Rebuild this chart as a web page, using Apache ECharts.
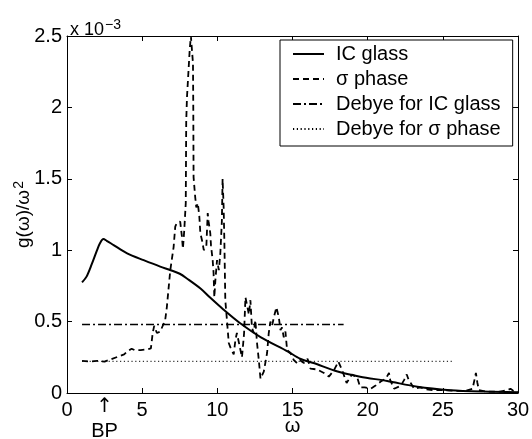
<!DOCTYPE html>
<html>
<head>
<meta charset="utf-8">
<script src="https://cdn.jsdelivr.net/npm/echarts@6/dist/echarts.min.js"></script>
<style>
	html,body{margin:0;padding:0;background:#fff;}
	#chart{width:532px;height:439px;}
</style>
</head>
<body>
<div id="chart"></div>
<script>
	// values in units of 1e-3 (axis shows x 10^-3)
	var icGlassW = [1.0,1.3,1.64,2.0,2.2,2.42,2.64,3.1,4.0,5.1,6.2,6.9,7.5,8.0,8.9,9.5,10.4,11.5,12.9,14.7,15.5,16.4,18.0,19.5,21.3,23.3,25.5,27.7,30]
	var icGlassG = [0.775,0.815,0.9,1.0,1.05,1.078,1.066,1.036,0.978,0.93,0.885,0.86,0.835,0.8,0.73,0.67,0.585,0.49,0.39,0.29,0.24,0.21,0.15,0.114,0.084,0.044,0.02,0.01,0.005]

	var sigmaW = [1.0,1.5,2.0,2.5,2.9,3.4,3.8,4.0,4.3,4.5,4.9,5.3,5.58,5.7,5.8,5.98,6.2,6.53,6.64,6.87,7.09,7.2,7.3,7.53,7.64,7.71,7.8,7.9,7.93,7.98,8.16,8.24,8.38,8.4,8.42,8.53,8.6,8.7,8.8,8.87,8.98,9.1,9.27,9.36,9.42,9.53,9.58,9.69,9.75,9.8,9.87,9.98,10.1,10.2,10.3,10.35,10.42,10.47,10.53,10.64,10.76,10.87,11.09,11.2,11.3,11.5,11.64,11.78,11.87,12.0,12.1,12.2,12.3,12.42,12.53,12.64,12.76,12.87,13.09,13.31,13.42,13.53,13.64,13.76,13.93,14.09,14.2,14.3,14.42,14.53,14.64,14.87,15.09,15.3,15.5,15.76,16.0,16.2,16.64,17.09,17.42,17.76,18.05,18.3,18.6,18.95,19.3,19.5,19.8,20.2,20.5,20.87,21.2,21.42,21.5,21.76,22.2,22.42,22.6,22.7,23.09,23.5,23.9,24.4,25.0,25.9,26.5,26.98,27.2,27.3,27.4,27.9,28.8,29.3,29.5,29.7,30]
	var sigmaG = [0.225,0.22,0.225,0.22,0.235,0.255,0.27,0.29,0.31,0.3,0.3,0.305,0.313,0.42,0.47,0.42,0.43,0.51,0.6,0.86,1.02,1.165,1.19,1.2,1.1,1.01,1.14,1.33,1.9,2.07,2.4,2.5,2.31,2.0,1.51,1.37,1.3,1.33,1.24,1.12,1.07,1.0,1.03,1.26,1.2,1.12,1.03,0.93,0.84,0.67,0.79,0.93,0.86,0.98,1.2,1.5,1.3,1.05,0.65,0.51,0.35,0.32,0.27,0.37,0.42,0.32,0.25,0.42,0.67,0.67,0.55,0.65,0.46,0.42,0.51,0.35,0.23,0.1,0.15,0.28,0.42,0.5,0.47,0.53,0.6,0.53,0.44,0.46,0.39,0.43,0.3,0.28,0.23,0.21,0.23,0.21,0.24,0.17,0.165,0.14,0.115,0.16,0.22,0.16,0.07,0.13,0.11,0.04,0.04,0.03,0.05,0.08,0.1,0.14,0.09,0.03,0.05,0.09,0.13,0.1,0.03,0.04,0.025,0.02,0.02,0.015,0.015,0.03,0.14,0.07,0.02,0.01,0.01,0.02,0.03,0.015,0.01]

	var debyeIcW = [1.0,18.4]
	var debyeIcG = [0.48,0.48]
	var debyeSigmaW = [1.0,25.6]
	var debyeSigmaG = [0.222,0.222]

	var xTicks = [0,5,10,15,20,25,30]
	var yTicks = ['0','0.5','1','1.5','2','2.5']
	var bpW = 2.5

	var font = "'Liberation Sans', Arial, Helvetica, sans-serif"

	function pairs(w,g){
		var d=[]
		for(var i=0;i<w.length;i++){
			d.push([w[i],g[i]])
		}
		return d
	}

	var myChart = echarts.init(document.getElementById('chart'))

	var axisX = {
		type:'value', min:xTicks[0], max:xTicks[xTicks.length-1], interval:5,
		axisLine:{show:true, onZero:false, lineStyle:{color:'#000',width:1}},
		axisTick:{show:true, inside:true, length:5, lineStyle:{color:'#000'}},
		splitLine:{show:false}
	}
	var axisY = {
		type:'value', min:0, max:2.5, interval:0.5,
		axisLine:{show:true, onZero:false, lineStyle:{color:'#000',width:1}},
		axisTick:{show:true, inside:true, length:5, lineStyle:{color:'#000'}},
		splitLine:{show:false}
	}

	var option = {
		animation:false,
		backgroundColor:'#fff',
		textStyle:{fontFamily:font},
		title:{
			left:65, top:13,
			text:'{a|x 10}{b|−3}',
			textStyle:{
				fontWeight:'normal',
				rich:{
					a:{fontSize:18, fontFamily:font, color:'#000', fontWeight:'normal'},
					b:{fontSize:14, fontFamily:font, color:'#000', fontWeight:'normal', padding:[0,0,10,1]}
				}
			}
		},
		grid:{left:67, right:14, top:36, bottom:46, outerBoundsMode:'none', containLabel:false},
		legend:{
			orient:'vertical', left:280, top:40,
			backgroundColor:'#fff', borderColor:'#000', borderWidth:1, borderRadius:0,
			padding:[4,12,7,12], itemGap:5, itemWidth:31, itemHeight:14,
			itemStyle:{opacity:0},
			textStyle:{fontSize:20, color:'#000', fontFamily:font, padding:[0,0,0,7]},
			data:['IC glass','σ phase','Debye for IC glass','Debye for σ phase']
		},
		xAxis:[
			echarts.util.merge({position:'bottom',
				name:'ω', nameLocation:'middle', nameGap:23, nameMoveOverlap:false,
				nameTextStyle:{fontSize:20, color:'#000', fontFamily:font},
				axisLabel:{fontSize:20, color:'#000', margin:7, fontFamily:font}}, axisX, true),
			echarts.util.merge({position:'top', axisLabel:{show:false}}, axisX, true)
		],
		yAxis:[
			echarts.util.merge({position:'left',
				name:'{a|g(ω)/ω}{b|2}', nameLocation:'middle', nameGap:31, nameRotate:90, nameMoveOverlap:false,
				nameTextStyle:{
					rich:{
						a:{fontSize:19, color:'#000', fontFamily:font},
						b:{fontSize:14, color:'#000', fontFamily:font, padding:[0,0,10,1]}
					}
				},
				axisLabel:{fontSize:20, color:'#000', margin:5, fontFamily:font,
					formatter:function(v){ return yTicks[Math.round(v/0.5)] }}}, axisY, true),
			echarts.util.merge({position:'right', axisLabel:{show:false}}, axisY, true)
		],
		series:[
			{name:'IC glass', type:'line', symbol:'none', smooth:0.3, data:pairs(icGlassW,icGlassG),
				lineStyle:{color:'#000', width:2, type:'solid'}, itemStyle:{color:'#000'}},
			{name:'σ phase', type:'line', symbol:'none', data:pairs(sigmaW,sigmaG),
				lineStyle:{color:'#000', width:1.8, type:[6,4]}, itemStyle:{color:'#000'}},
			{name:'Debye for IC glass', type:'line', symbol:'none', data:pairs(debyeIcW,debyeIcG),
				lineStyle:{color:'#000', width:1.6, type:[8,3,2,3]}, itemStyle:{color:'#000'}},
			{name:'Debye for σ phase', type:'line', symbol:'none', data:pairs(debyeSigmaW,debyeSigmaG),
				lineStyle:{color:'#000', width:1, type:[1.2,2.6]}, itemStyle:{color:'#000'}}
		]
	}
	myChart.setOption(option)

	// BP marker under the axis
	var bx = myChart.convertToPixel({xAxisIndex:0}, bpW)
	myChart.setOption({
		graphic:[
			{type:'text', x:bx, y:397, style:{text:'↑', fontSize:20, fill:'#000', align:'center', fontFamily:"'DejaVu Sans', sans-serif"}},
			{type:'text', x:bx, y:421, style:{text:'BP', fontSize:20, fill:'#000', align:'center', fontFamily:font}}
		]
	})
</script>
</body>
</html>
